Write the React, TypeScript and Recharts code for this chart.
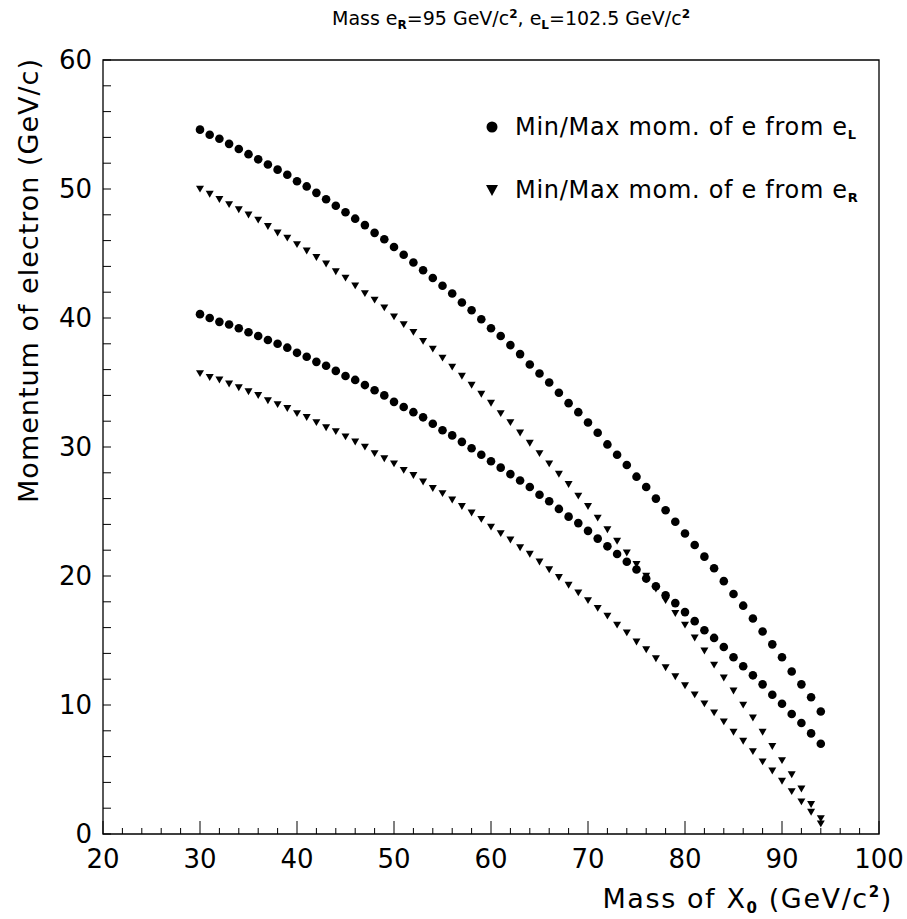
import React from 'react';
import { ReferenceArea, Scatter, ScatterChart, XAxis, YAxis } from 'recharts';

// mass of X0 (GeV/c^2), one point per GeV
const MASS_X0 = [
  30, 31, 32, 33, 34, 35, 36, 37, 38, 39, 40, 41, 42, 43, 44, 45, 46, 47, 48, 49,
  50, 51, 52, 53, 54, 55, 56, 57, 58, 59, 60, 61, 62, 63, 64, 65, 66, 67, 68, 69,
  70, 71, 72, 73, 74, 75, 76, 77, 78, 79, 80, 81, 82, 83, 84, 85, 86, 87, 88, 89,
  90, 91, 92, 93, 94,
];

// electron momentum (GeV/c)
const E_L_MAX = [
  54.6, 54.2, 53.9, 53.5, 53.1, 52.7, 52.3, 51.9, 51.5, 51.1,
  50.6, 50.2, 49.7, 49.2, 48.7, 48.2, 47.7, 47.2, 46.6, 46.1,
  45.5, 44.9, 44.3, 43.7, 43.1, 42.5, 41.9, 41.2, 40.6, 39.9,
  39.2, 38.6, 37.9, 37.2, 36.4, 35.7, 35.0, 34.2, 33.4, 32.7,
  31.9, 31.1, 30.2, 29.4, 28.6, 27.7, 26.9, 26.0, 25.1, 24.2,
  23.3, 22.4, 21.5, 20.6, 19.6, 18.6, 17.7, 16.7, 15.7, 14.7,
  13.7, 12.6, 11.6, 10.6, 9.5,
];
const E_L_MIN = [
  40.3, 40.0, 39.7, 39.5, 39.2, 38.9, 38.6, 38.3, 38.0, 37.7,
  37.3, 37.0, 36.6, 36.3, 35.9, 35.5, 35.2, 34.8, 34.4, 34.0,
  33.5, 33.1, 32.7, 32.3, 31.8, 31.3, 30.9, 30.4, 29.9, 29.4,
  28.9, 28.4, 27.9, 27.4, 26.9, 26.3, 25.8, 25.2, 24.6, 24.1,
  23.5, 22.9, 22.3, 21.7, 21.1, 20.5, 19.8, 19.2, 18.5, 17.9,
  17.2, 16.5, 15.8, 15.2, 14.5, 13.7, 13.0, 12.3, 11.6, 10.8,
  10.1, 9.3, 8.6, 7.8, 7.0,
];
const E_R_MAX = [
  50.0, 49.6, 49.2, 48.8, 48.4, 48.0, 47.6, 47.1, 46.6, 46.2,
  45.7, 45.2, 44.7, 44.2, 43.6, 43.1, 42.5, 41.9, 41.4, 40.8,
  40.1, 39.5, 38.9, 38.2, 37.6, 36.9, 36.2, 35.5, 34.8, 34.1,
  33.4, 32.6, 31.9, 31.1, 30.3, 29.5, 28.7, 27.9, 27.1, 26.2,
  25.4, 24.5, 23.6, 22.7, 21.8, 20.9, 20.0, 19.0, 18.1, 17.1,
  16.2, 15.2, 14.2, 13.1, 12.1, 11.1, 10.0, 9.0, 7.9, 6.8,
  5.7, 4.6, 3.5, 2.3, 1.2,
];
const E_R_MIN = [
  35.7, 35.4, 35.2, 34.9, 34.6, 34.3, 34.0, 33.6, 33.3, 33.0,
  32.6, 32.3, 31.9, 31.5, 31.2, 30.8, 30.4, 30.0, 29.5, 29.1,
  28.7, 28.2, 27.8, 27.3, 26.8, 26.4, 25.9, 25.4, 24.9, 24.4,
  23.8, 23.3, 22.8, 22.2, 21.7, 21.1, 20.5, 19.9, 19.3, 18.7,
  18.1, 17.5, 16.9, 16.2, 15.6, 14.9, 14.3, 13.6, 12.9, 12.2,
  11.5, 10.8, 10.1, 9.4, 8.7, 7.9, 7.2, 6.4, 5.6, 4.9,
  4.1, 3.3, 2.5, 1.7, 0.8,
];

const X_TICKS = [
  20, 22, 24, 26, 28, 30, 32, 34, 36, 38, 40, 42, 44, 46, 48, 50, 52, 54, 56, 58,
  60, 62, 64, 66, 68, 70, 72, 74, 76, 78, 80, 82, 84, 86, 88, 90, 92, 94, 96, 98, 100,
];
const Y_TICKS = [
  0, 2, 4, 6, 8, 10, 12, 14, 16, 18, 20, 22, 24, 26, 28, 30,
  32, 34, 36, 38, 40, 42, 44, 46, 48, 50, 52, 54, 56, 58, 60,
];

const FONT = '"DejaVu Sans", sans-serif';

const toPoints = (ys: number[]) => MASS_X0.map((x, i) => ({ x, y: ys[i] }));

const Dot = (props: any) => <circle cx={props.cx} cy={props.cy} r={4.3} fill="#000" />;

const Tri = (props: any) => {
  const { cx, cy } = props;
  return (
    <polygon
      points={`${cx - 4},${cy - 3.3} ${cx + 4},${cy - 3.3} ${cx},${cy + 3.6}`}
      fill="#000"
    />
  );
};

const XTick = (props: any) => {
  const { x, y, payload } = props;
  const major = payload.value % 10 === 0;
  return (
    <g>
      <line x1={x} x2={x} y1={y} y2={y - (major ? 13 : 6)} stroke="#000" strokeWidth={1} />
      {major && (
        <text x={x} y={y + 34} textAnchor="middle" fontSize={26} fontFamily={FONT} fill="#000">
          {payload.value}
        </text>
      )}
    </g>
  );
};

const YTick = (props: any) => {
  const { x, y, payload } = props;
  const major = payload.value % 10 === 0;
  return (
    <g>
      <line x1={x} x2={x + 8} y1={y} y2={y} stroke="#000" strokeWidth={1} />
      {major && (
        <text x={x - 11} y={y + 9} textAnchor="end" fontSize={26} fontFamily={FONT} fill="#000">
          {payload.value}
        </text>
      )}
    </g>
  );
};

function Labels() {
  const sub = { fontSize: 12, fontWeight: 700 } as const;
  return (
    <svg
      width={907}
      height={919}
      style={{ position: 'absolute', left: 0, top: 0, pointerEvents: 'none' }}
      fontFamily={FONT}
    >
      <text x={511} y={25} textAnchor="middle" fontSize={19}>
        Mass e<tspan dy={4} {...sub}>R</tspan>
        <tspan dy={-4}>=95 GeV/c</tspan>
        <tspan dy={-7} {...sub}>2</tspan>
        <tspan dy={7}>, e</tspan>
        <tspan dy={4} {...sub}>L</tspan>
        <tspan dy={-4}>=102.5 GeV/c</tspan>
        <tspan dy={-7} {...sub}>2</tspan>
      </text>

      <text x={893} y={908} textAnchor="end" fontSize={27} letterSpacing={1.6}>
        Mass of X<tspan dy={5} fontSize={15} fontWeight={700}>0</tspan>
        <tspan dy={-5}> (GeV/c</tspan>
        <tspan dy={-11} fontSize={15} fontWeight={700}>2</tspan>
        <tspan dy={11}>)</tspan>
      </text>

      <text
        x={38}
        y={58}
        textAnchor="end"
        fontSize={27}
        letterSpacing={1}
        transform="rotate(-90 38 58)"
      >
        Momentum of electron (GeV/c)
      </text>

      <circle cx={492} cy={127} r={5.5} fill="#000" />
      <text x={515} y={135} fontSize={24} letterSpacing={0.7}>
        Min/Max mom. of e from e<tspan dy={4} fontSize={13} fontWeight={700}>L</tspan>
      </text>
      <polygon points="486,185 498,185 492,196" fill="#000" />
      <text x={515} y={198} fontSize={24} letterSpacing={0.7}>
        Min/Max mom. of e from e<tspan dy={4} fontSize={13} fontWeight={700}>R</tspan>
      </text>
    </svg>
  );
}

export default function App() {
  return (
    <div style={{ position: 'absolute', left: 0, top: 0, width: 907, height: 919, background: '#fff' }}>
      <ScatterChart
        width={907}
        height={919}
        margin={{ top: 60, right: 28, bottom: 45, left: 43 }}
      >
        <XAxis
          dataKey="x"
          type="number"
          domain={[20, 100]}
          ticks={X_TICKS}
          interval={0}
          tick={<XTick />}
          tickLine={false}
          axisLine={false}
          tickSize={0}
          tickMargin={0}
          height={40}
        />
        <YAxis
          dataKey="y"
          type="number"
          domain={[0, 60]}
          ticks={Y_TICKS}
          interval={0}
          tick={<YTick />}
          tickLine={false}
          axisLine={false}
          tickSize={0}
          tickMargin={0}
          width={60}
        />
        <ReferenceArea x1={20} x2={100} y1={0} y2={60} fill="none" stroke="#000" strokeWidth={1.3} />
        <Scatter data={toPoints(E_L_MAX)} shape={<Dot />} isAnimationActive={false} />
        <Scatter data={toPoints(E_L_MIN)} shape={<Dot />} isAnimationActive={false} />
        <Scatter data={toPoints(E_R_MAX)} shape={<Tri />} isAnimationActive={false} />
        <Scatter data={toPoints(E_R_MIN)} shape={<Tri />} isAnimationActive={false} />
      </ScatterChart>
      <Labels />
    </div>
  );
}
